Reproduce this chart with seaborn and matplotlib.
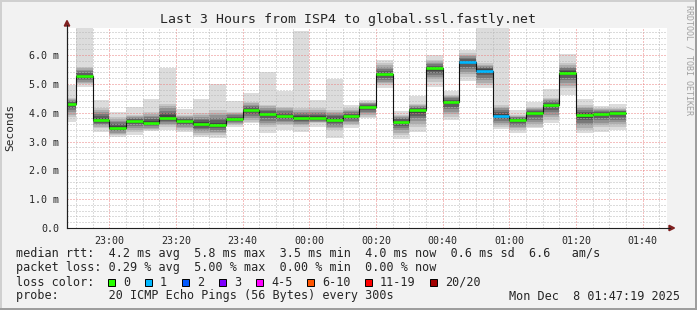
import matplotlib
matplotlib.use("Agg")
import numpy as np
import pandas as pd
import matplotlib.pyplot as plt
import matplotlib.dates as mdates
import matplotlib.ticker as mticker
from matplotlib.patches import Rectangle, Polygon
from matplotlib.lines import Line2D
import seaborn as sns

# ---------------- data ----------------
title = "Last 3 Hours from ISP4 to global.ssl.fastly.net"
first_bar = "2025-12-07 22:45"
window_start = "2025-12-07 22:47:19"
window_end = "2025-12-08 01:47:19"
step = "5min"

# median rtt per 5-minute step (ms)
rtt_median = [4.32, 5.27, 3.76, 3.47, 3.72, 3.65, 3.83, 3.72, 3.61, 3.57,
              3.78, 4.09, 3.95, 3.88, 3.82, 3.82, 3.76, 3.88, 4.21, 5.33,
              3.69, 4.10, 5.54, 4.38, 5.76, 5.46, 3.90, 3.76, 4.00, 4.28,
              5.39, 3.92, 3.96, 4.00]
# extremes of the smoke (ms)
rtt_low = [3.69, 4.90, 3.34, 3.17, 3.23, 3.36, 3.40, 3.34, 3.17, 3.11,
           3.49, 3.63, 3.31, 3.40, 3.32, 3.49, 3.11, 3.48, 3.80, 4.85,
           3.08, 3.34, 4.90, 3.75, 5.10, 4.85, 3.42, 3.28, 3.46, 3.63,
           4.61, 3.28, 3.34, 3.40]
rtt_high = [4.96, 7.00, 4.44, 4.01, 4.19, 4.47, 5.56, 4.13, 4.47, 4.99,
            4.40, 4.69, 5.40, 4.76, 6.83, 4.44, 5.17, 4.27, 4.44, 5.83,
            4.06, 4.58, 6.00, 4.76, 6.17, 7.00, 7.00, 4.09, 4.38, 4.82,
            6.03, 4.47, 4.24, 4.30]
# range of the dense core of the smoke (ms)
rtt_core_low = [3.86, 4.98, 3.46, 3.23, 3.34, 3.40, 3.51, 3.40, 3.23, 3.23,
                3.57, 3.69, 3.51, 3.57, 3.51, 3.63, 3.40, 3.57, 3.86, 4.96,
                3.23, 3.51, 5.08, 3.86, 5.25, 4.96, 3.51, 3.40, 3.51, 3.75,
                4.85, 3.40, 3.51, 3.51]
rtt_core_high = [4.50, 5.60, 4.15, 3.86, 3.92, 4.03, 4.32, 3.92, 3.98, 4.09,
                 4.03, 4.38, 4.27, 4.21, 4.15, 4.15, 4.09, 4.15, 4.38, 5.71,
                 3.92, 4.32, 5.83, 4.61, 6.06, 5.71, 4.27, 3.92, 4.21, 4.50,
                 5.71, 4.27, 4.15, 4.15]
# lost pings out of 20 per step
loss_count = [0, 0, 0, 0, 0, 0, 0, 0, 0, 0,
              0, 0, 0, 0, 0, 0, 0, 0, 0, 0,
              0, 0, 0, 0, 1, 1, 1, 0, 0, 0,
              0, 0, 0, 0]

y_ticks = [0, 1, 2, 3, 4, 5, 6]
y_tick_labels = ["0.0", "1.0 m", "2.0 m", "3.0 m", "4.0 m", "5.0 m", "6.0 m"]

loss_labels = ["0", "1", "2", "3", "4-5", "6-10", "11-19", "20/20"]
loss_colors = ["#26ff00", "#00b8ff", "#0059ff", "#7e00ff", "#ff00ff",
               "#ff5500", "#ff0000", "#a10000"]

row_rtt = "median rtt:  4.2 ms avg  5.8 ms max  3.5 ms min  4.0 ms now  0.6 ms sd  6.6   am/s"
row_loss = "packet loss: 0.29 % avg  5.00 % max  0.00 % min  0.00 % now"
row_color = "loss color:"
row_probe = "probe:       20 ICMP Echo Pings (56 Bytes) every 300s"
stamp = "Mon Dec  8 01:47:19 2025"
y_label = "Seconds"
watermark = "RRDTOOL / TOBI OETIKER"

# ---------------- style ----------------
sns.set_style("white")
MONO = ["DejaVu Sans Mono"]
plt.rcParams["font.family"] = MONO

W, H = 697, 310
fig = plt.figure(figsize=(W / 100, H / 100), dpi=100)
fig.patch.set_facecolor("#f2f2f2")


def fx(x):
    return x / W


def fy(y):
    return 1 - y / H


ax = fig.add_axes([fx(67), fy(228), 600 / W, 200 / H])
ax.set_facecolor("white")

starts = pd.date_range(first_bar, periods=len(rtt_median), freq=step)
x_start = mdates.date2num(starts.to_pydatetime())
dx = mdates.date2num(pd.Timestamp(first_bar) + pd.Timedelta(step)) - mdates.date2num(pd.Timestamp(first_bar))
x_end = x_start + dx
edges = np.append(x_start, x_end[-1])


def ext(a):
    a = np.asarray(a, dtype=float)
    return np.append(a, a[-1])


med = np.asarray(rtt_median)
clo = np.asarray(rtt_core_low)
chi = np.asarray(rtt_core_high)

# outer light smoke
ax.fill_between(edges, ext(rtt_low), ext(rtt_high), step="post",
                color="#dcdcdc", lw=0, zorder=1)
# graded core, darker towards the median
shades = ["#c6c6c6", "#adadad", "#939393", "#787878", "#5e5e5e", "#454545"]
n = len(shades)
for k, c in enumerate(shades):
    lo_k = clo + (med - clo) * k / n
    hi_k = chi - (chi - med) * k / n
    ax.fill_between(edges, ext(lo_k), ext(hi_k), step="post",
                    color=c, lw=0, zorder=1.1 + k * 0.01)

# median step line
sns.lineplot(x=edges, y=ext(rtt_median), drawstyle="steps-post",
             color="#111111", linewidth=0.8, ax=ax, estimator=None,
             sort=False, legend=False, zorder=3)


def loss_index(c):
    if c <= 3:
        return c
    if c <= 5:
        return 4
    if c <= 10:
        return 5
    if c <= 19:
        return 6
    return 7


seg_colors = [loss_colors[loss_index(c)] for c in loss_count]
ax.hlines(rtt_median, x_start, x_end, colors=seg_colors, linewidth=1.9, zorder=4)

# axes limits / ticks
ax.set_xlim(mdates.date2num(pd.Timestamp(window_start)),
            mdates.date2num(pd.Timestamp(window_end)))
ax.set_ylim(0, 6.94)
ax.set_yticks(y_ticks)
ax.set_yticklabels(y_tick_labels)
ax.yaxis.set_minor_locator(mticker.MultipleLocator(0.2))
ax.xaxis.set_major_locator(mdates.MinuteLocator(byminute=[0, 20, 40]))
ax.xaxis.set_minor_locator(mdates.MinuteLocator(byminute=range(0, 60, 5)))
ax.xaxis.set_major_formatter(mdates.DateFormatter("%H:%M"))

ax.set_axisbelow(False)
ax.grid(which="minor", color="#b8b8b8", ls=(0, (1, 2)), lw=0.72)
ax.grid(which="major", color="#ea8080", ls=(0, (1, 2)), lw=0.72)

ax.tick_params(which="major", length=3, width=0.7, color="#1f1f1f",
               labelsize=7.2, pad=2.5, direction="out")
ax.tick_params(which="minor", length=1.5, width=0.7, color="#1f1f1f",
               direction="out")
ax.tick_params(axis="y", which="minor", length=0)
for lab in ax.get_xticklabels() + ax.get_yticklabels():
    lab.set_family(MONO)

for s in ["top", "right"]:
    ax.spines[s].set_visible(False)
for s in ["left", "bottom"]:
    ax.spines[s].set_color("#1f1f1f")
    ax.spines[s].set_linewidth(0.8)
    ax.spines[s].set_zorder(5)

# axis extensions and arrows
fig.add_artist(Line2D([fx(67), fx(67)], [fy(228), fy(25)], color="#1f1f1f", lw=0.8))
fig.add_artist(Line2D([fx(667), fx(670)], [fy(228), fy(228)], color="#1f1f1f", lw=0.8))
fig.add_artist(Polygon([[fx(64.3), fy(26)], [fx(69.7), fy(26)], [fx(67), fy(20.5)]],
                       closed=True, color="#7f1f1f", transform=fig.transFigure))
fig.add_artist(Polygon([[fx(669), fy(225.3)], [fx(669), fy(230.7)], [fx(674.5), fy(228)]],
                       closed=True, color="#7f1f1f", transform=fig.transFigure))

# frame
fig.add_artist(Rectangle((0, fy(2)), 1, 2 / H, transform=fig.transFigure, color="#d0d0d0", lw=0))
fig.add_artist(Rectangle((0, 0), 2 / W, 1, transform=fig.transFigure, color="#d0d0d0", lw=0))
fig.add_artist(Rectangle((0, 0), 1, 2.5 / H, transform=fig.transFigure, color="#9e9e9e", lw=0))
fig.add_artist(Rectangle((fx(694.5), 0), 2.5 / W, 1, transform=fig.transFigure, color="#9e9e9e", lw=0))

# texts
fig.text(0.5, fy(19), title, ha="center", va="center", fontsize=9.5, family=MONO)
fig.text(fx(10.5), fy(127), y_label, rotation=90, ha="center", va="center",
         fontsize=8.0, family=MONO)
fig.text(fx(688.5), fy(5), watermark, rotation=270, ha="center", va="top",
         fontsize=6.0, color="#a0a0a0", family=MONO)

fs = 8.5
fig.text(fx(16), fy(254), row_rtt, ha="left", va="center", fontsize=fs, family=MONO)
fig.text(fx(16), fy(268), row_loss, ha="left", va="center", fontsize=fs, family=MONO)
fig.text(fx(16), fy(282), row_color, ha="left", va="center", fontsize=fs, family=MONO)
fig.text(fx(16), fy(296), row_probe, ha="left", va="center", fontsize=fs, family=MONO)
fig.text(fx(680), fy(296), stamp, ha="right", va="center", fontsize=fs, family=MONO)

box_x = [108.3, 145, 181.7, 219, 256, 307.3, 365, 430]
for bx, lab, col in zip(box_x, loss_labels, loss_colors):
    fig.add_artist(Rectangle((fx(bx), fy(285.5)), 7 / W, 7 / H,
                             transform=fig.transFigure, facecolor=col,
                             edgecolor="black", lw=0.7))
    fig.text(fx(bx + 15), fy(282), lab, ha="left", va="center",
             fontsize=fs, family=MONO)

fig.savefig("out.png", dpi=100, facecolor=fig.get_facecolor())
